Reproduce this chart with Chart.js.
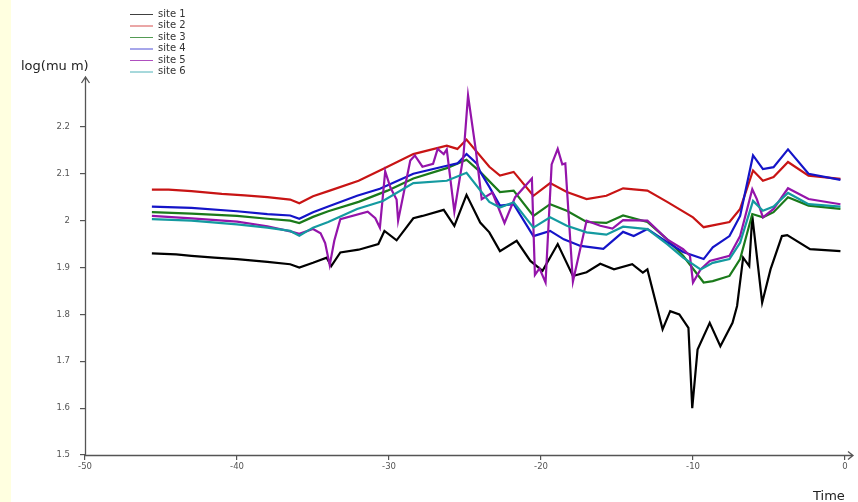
<!DOCTYPE html>
<html><head><meta charset="utf-8">
<script src="https://cdn.jsdelivr.net/npm/chart.js@4/dist/chart.umd.min.js"></script>
<style>
html,body{margin:0;padding:0;background:#fff;}
#wrap{position:relative;width:858px;height:502px;overflow:hidden;}
#strip{position:absolute;left:0;top:0;width:11px;height:502px;background:#ffffe0;}
canvas{position:absolute;left:0;top:0;}
</style></head><body>
<div id="wrap"><div id="strip"></div><canvas id="c" width="858" height="502"></canvas></div>
<script>
const seriesNames = ['site 1','site 2','site 3','site 4','site 5','site 6'];
const seriesColors = ['#000000','#c81414','#1a7a1a','#1414c8','#9414aa','#149aa0'];
const xTicks = [-50,-40,-30,-20,-10,0];
const yTicks = [1.5,1.6,1.7,1.8,1.9,2,2.1,2.2];
const xTitle = 'Time';
const yTitle = 'log(mu m)';

const site1 = [[-45.6,1.930],[-44,1.928],[-43,1.925],[-41.5,1.921],[-40,1.918],[-38,1.912],[-36.5,1.907],[-35.9,1.900],[-35,1.910],[-34.1,1.921],[-33.8,1.903],[-33.2,1.932],[-32,1.938],[-30.7,1.950],[-30.3,1.978],[-29.5,1.958],[-28.4,2.005],[-27.8,2.010],[-26.4,2.023],[-25.7,1.989],[-24.9,2.055],[-24,1.996],[-23.4,1.975],[-22.7,1.935],[-21.6,1.957],[-20.7,1.914],[-19.9,1.893],[-18.9,1.950],[-17.9,1.882],[-17,1.890],[-16.1,1.908],[-15.2,1.896],[-14,1.907],[-13.3,1.889],[-13,1.896],[-12,1.768],[-11.5,1.807],[-10.9,1.800],[-10.3,1.771],[-10.05,1.600],[-9.7,1.725],[-8.9,1.782],[-8.2,1.732],[-7.4,1.782],[-7.1,1.818],[-6.7,1.921],[-6.3,1.903],[-6.1,2.010],[-5.45,1.825],[-4.9,1.896],[-4.15,1.967],[-3.8,1.969],[-2.3,1.939],[-0.3,1.935]];

const site2 = [[-45.6,2.066],[-44.5,2.066],[-43,2.063],[-41,2.057],[-39.5,2.054],[-38,2.050],[-36.5,2.045],[-35.9,2.037],[-35,2.052],[-33.9,2.064],[-32,2.085],[-30.4,2.110],[-28.4,2.142],[-26.2,2.160],[-25.5,2.153],[-24.9,2.173],[-23.4,2.115],[-22.7,2.096],[-21.8,2.104],[-20.5,2.053],[-19.4,2.080],[-18.3,2.061],[-17,2.046],[-15.7,2.053],[-14.6,2.069],[-13,2.064],[-11.7,2.040],[-10,2.007],[-9.3,1.986],[-8.7,1.990],[-7.6,1.997],[-6.9,2.025],[-6.05,2.107],[-5.4,2.085],[-4.7,2.093],[-3.75,2.125],[-2.4,2.096],[-0.3,2.089]];

const site3 = [[-45.6,2.018],[-43,2.015],[-40,2.010],[-38,2.004],[-36.5,2.000],[-35.9,1.995],[-35,2.008],[-34,2.020],[-32,2.040],[-30.1,2.064],[-28.4,2.090],[-26.2,2.112],[-24.9,2.130],[-24,2.104],[-22.7,2.061],[-21.8,2.064],[-20.5,2.010],[-19.4,2.035],[-18.3,2.021],[-17,1.997],[-15.7,1.995],[-14.6,2.011],[-13,1.997],[-11.7,1.960],[-10.65,1.925],[-9.3,1.868],[-8.7,1.871],[-7.6,1.882],[-6.9,1.918],[-6.1,2.014],[-5.4,2.007],[-4.7,2.018],[-3.75,2.050],[-2.4,2.032],[-0.3,2.025]];

const site4 = [[-45.6,2.030],[-43,2.027],[-40,2.020],[-38,2.014],[-36.5,2.011],[-35.9,2.004],[-35,2.018],[-34,2.030],[-32.1,2.053],[-30.6,2.068],[-28.4,2.100],[-26.2,2.117],[-25.5,2.122],[-24.9,2.142],[-24.2,2.121],[-24.0,2.104],[-23.4,2.072],[-22.7,2.032],[-21.8,2.035],[-20.5,1.967],[-19.4,1.978],[-18.5,1.960],[-17.4,1.946],[-15.9,1.940],[-14.6,1.976],[-13.9,1.967],[-13.0,1.982],[-11.7,1.954],[-10.65,1.933],[-9.3,1.918],[-8.7,1.943],[-7.6,1.967],[-6.9,2.010],[-6.05,2.139],[-5.4,2.110],[-4.7,2.114],[-3.75,2.152],[-2.4,2.100],[-0.3,2.087]];

const site5 = [[-45.6,2.010],[-43,2.005],[-40,1.998],[-38,1.988],[-36.5,1.977],[-35.9,1.972],[-35,1.982],[-34.5,1.973],[-34.2,1.952],[-33.9,1.905],[-33.6,1.957],[-33.3,1.992],[-33.2,2.003],[-31.4,2.019],[-30.9,2.005],[-30.6,1.985],[-30.25,2.105],[-29.9,2.070],[-29.5,2.045],[-29.4,2.000],[-28.6,2.128],[-28.3,2.139],[-27.8,2.115],[-27.1,2.121],[-26.8,2.153],[-26.4,2.142],[-26.2,2.152],[-25.7,2.019],[-25.1,2.139],[-24.8,2.267],[-24.3,2.153],[-23.9,2.046],[-23.2,2.060],[-22.4,1.995],[-21.7,2.050],[-20.6,2.090],[-20.4,1.884],[-20.1,1.898],[-19.7,1.868],[-19.3,2.120],[-18.9,2.153],[-18.6,2.120],[-18.4,2.122],[-17.9,1.870],[-17.0,2.000],[-16.1,1.989],[-15.3,1.983],[-14.6,2.001],[-13,2.000],[-11.7,1.960],[-10.65,1.939],[-10.2,1.925],[-10.0,1.868],[-9.5,1.896],[-8.9,1.914],[-7.6,1.925],[-6.9,1.967],[-6.1,2.067],[-5.8,2.046],[-5.4,2.007],[-4.7,2.025],[-3.75,2.069],[-2.4,2.046],[-0.3,2.035]];

const site6 = [[-45.6,2.003],[-43,2.000],[-40,1.992],[-38,1.985],[-36.5,1.978],[-35.9,1.968],[-35,1.985],[-34,1.997],[-32.1,2.025],[-30.4,2.042],[-28.4,2.080],[-26.2,2.085],[-24.9,2.102],[-23.4,2.040],[-22.7,2.028],[-21.8,2.039],[-20.5,1.985],[-19.4,2.007],[-18.3,1.989],[-17,1.975],[-15.7,1.970],[-14.6,1.987],[-13,1.982],[-11.7,1.950],[-10.65,1.921],[-9.5,1.896],[-8.7,1.910],[-7.6,1.918],[-6.9,1.953],[-6.05,2.042],[-5.4,2.021],[-4.7,2.030],[-3.75,2.059],[-2.4,2.035],[-0.3,2.030]];

const allSeries = [site1, site2, site3, site4, site5, site6];
const FONT = '"DejaVu Sans", "Liberation Sans", Arial, sans-serif';

const datasets = allSeries.map((s, i) => ({
  label: seriesNames[i],
  data: s.map(p => ({x: p[0], y: p[1]})),
  borderColor: seriesColors[i],
  backgroundColor: seriesColors[i],
  borderWidth: 2.2,
  pointRadius: 0,
  showLine: true,
  tension: 0,
  fill: false,
  order: 6 - i
}));

const decor = {
  id: 'decor',
  afterDraw(chart) {
    const ctx = chart.ctx;
    const a = chart.chartArea;
    ctx.save();
    ctx.strokeStyle = '#555';
    ctx.lineWidth = 1.3;
    ctx.beginPath();
    ctx.moveTo(a.left + 0.5, a.bottom + 0.5);
    ctx.lineTo(a.left + 0.5, a.top - 3);
    ctx.moveTo(a.left - 3.5, a.top + 3);
    ctx.lineTo(a.left + 0.5, a.top - 3);
    ctx.lineTo(a.left + 4.5, a.top + 3);
    ctx.moveTo(a.left, a.bottom + 0.5);
    ctx.lineTo(a.right + 8, a.bottom + 0.5);
    ctx.moveTo(a.right + 3, a.bottom - 3.5);
    ctx.lineTo(a.right + 8, a.bottom + 0.5);
    ctx.lineTo(a.right + 3, a.bottom + 4.5);
    ctx.stroke();

    ctx.fillStyle = '#222';
    ctx.font = '13px ' + FONT;
    ctx.textBaseline = 'alphabetic';
    ctx.textAlign = 'left';
    ctx.fillText(yTitle, 21, 70);
    ctx.fillText(xTitle, 813, 500);

    ctx.font = '10px ' + FONT;
    ctx.textBaseline = 'middle';
    seriesNames.forEach((n, i) => {
      const y = 14 + i * 11.5;
      ctx.strokeStyle = seriesColors[i];
      ctx.globalAlpha = 0.75;
      ctx.lineWidth = 1;
      ctx.beginPath();
      ctx.moveTo(130, y + 0.5);
      ctx.lineTo(153, y + 0.5);
      ctx.stroke();
      ctx.globalAlpha = 1;
      ctx.fillStyle = '#333';
      ctx.fillText(n, 158, y);
    });
    ctx.restore();
  }
};

new Chart(document.getElementById('c'), {
  type: 'scatter',
  data: { datasets },
  options: {
    responsive: false,
    animation: false,
    events: [],
    layout: { padding: { left: 0, top: 80, right: 13, bottom: 0 } },
    plugins: { legend: { display: false }, tooltip: { enabled: false } },
    scales: {
      x: {
        type: 'linear', min: -50, max: 0,
        afterBuildTicks: s => { s.ticks = xTicks.map(v => ({value: v})); },
        afterFit: s => { s.height = 47; },
        border: { display: false },
        grid: { drawOnChartArea: false, drawTicks: true, tickLength: 5, color: '#555', lineWidth: 1.2 },
        ticks: { autoSkip: false, maxRotation: 0, padding: 2, color: '#555', font: { family: FONT, size: 8.5 }, callback: v => String(v) }
      },
      y: {
        type: 'linear', min: 1.5, max: 2.3,
        afterBuildTicks: s => { s.ticks = yTicks.map(v => ({value: v})); },
        afterFit: s => { s.width = 85; },
        border: { display: false },
        grid: { drawOnChartArea: false, drawTicks: true, tickLength: 5, color: '#555', lineWidth: 1.2 },
        ticks: { autoSkip: false, padding: 10, color: '#555', font: { family: FONT, size: 8.5 }, callback: v => String(v) }
      }
    }
  },
  plugins: [decor]
});
</script>
</body></html>
